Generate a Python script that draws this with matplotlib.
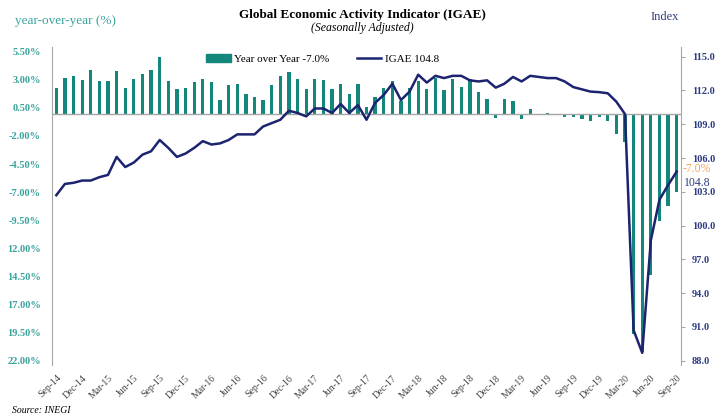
#Chart of the Global Economic Activity Indicator (IGAE) for Mexico, bars for the yearly change and a line for the index

import numpy as np #numpy for the positions of the bars
import matplotlib
matplotlib.use("Agg")
import matplotlib.pyplot as plt #matplotlib to draw the chart
from matplotlib.patches import Patch
from matplotlib.lines import Line2D

plt.rcParams['font.family'] = ['Liberation Serif', 'DejaVu Serif']

#monthly data from Sep-14 to Sep-20 (73 months)
months = ["Sep-14", "Oct-14", "Nov-14", "Dec-14", "Jan-15", "Feb-15", "Mar-15", "Apr-15", "May-15", "Jun-15", "Jul-15", "Aug-15",
          "Sep-15", "Oct-15", "Nov-15", "Dec-15", "Jan-16", "Feb-16", "Mar-16", "Apr-16", "May-16", "Jun-16", "Jul-16", "Aug-16",
          "Sep-16", "Oct-16", "Nov-16", "Dec-16", "Jan-17", "Feb-17", "Mar-17", "Apr-17", "May-17", "Jun-17", "Jul-17", "Aug-17",
          "Sep-17", "Oct-17", "Nov-17", "Dec-17", "Jan-18", "Feb-18", "Mar-18", "Apr-18", "May-18", "Jun-18", "Jul-18", "Aug-18",
          "Sep-18", "Oct-18", "Nov-18", "Dec-18", "Jan-19", "Feb-19", "Mar-19", "Apr-19", "May-19", "Jun-19", "Jul-19", "Aug-19",
          "Sep-19", "Oct-19", "Nov-19", "Dec-19", "Jan-20", "Feb-20", "Mar-20", "Apr-20", "May-20", "Jun-20", "Jul-20", "Aug-20",
          "Sep-20"]

#year over year change in %
yoy = [2.3, 3.2, 3.3, 3.0, 3.9, 2.9, 2.9, 3.8, 2.3, 3.1, 3.5, 3.9,
       5.0, 2.9, 2.2, 2.3, 2.8, 3.1, 2.8, 1.2, 2.5, 2.6, 1.7, 1.5,
       1.2, 2.5, 3.3, 3.7, 3.1, 2.2, 3.1, 3.0, 2.2, 2.6, 1.7, 2.6,
       0.6, 1.5, 2.3, 2.9, 1.1, 2.3, 2.85, 2.2, 3.2, 2.05, 3.1, 2.35,
       3.1, 1.9, 1.3, -0.4, 1.3, 1.1, -0.5, 0.4, -0.1, 0.05, -0.1, -0.3,
       -0.3, -0.5, -0.7, -0.3, -0.7, -1.8, -2.5, -19.6, -21.2, -14.4, -9.6, -8.2,
       -7.0]

#IGAE index (seasonally adjusted)
igae = [102.7, 103.7, 103.8, 104.0, 104.0, 104.3, 104.5, 106.1, 105.2, 105.6, 106.3, 106.6,
        107.6, 106.9, 106.1, 106.4, 106.9, 107.5, 107.2, 107.3, 107.6, 108.1, 108.1, 108.1,
        108.8, 109.1, 109.4, 110.2, 110.0, 109.7, 110.4, 110.4, 110.0, 110.8, 110.0, 110.7,
        109.4, 110.9, 111.6, 112.6, 111.15, 111.9, 113.4, 112.7, 113.3, 113.1, 113.3, 113.3,
        112.9, 112.8, 112.9, 112.25, 112.6, 113.2, 112.8, 113.3, 113.2, 113.1, 113.1, 112.8,
        112.3, 112.1, 111.9, 111.85, 111.75, 111.0, 109.9, 90.7, 88.7, 98.7, 102.3, 103.6,
        104.8]

#left axis tick labels, written like in the original picture
left_ticks = [5.5, 3.0, 0.5, -2.0, -4.5, -7.0, -9.5, -12.0, -14.5, -17.0, -19.5, -22.0]
left_labels = ["5.50%", "3.00%", "0.50%", "-2.00%", "-4.50%", "-7.00%", "-9.50%",
               "12.00%", "14.50%", "17.00%", "19.50%", "22.00%"]
right_ticks = [88, 91, 94, 97, 100, 103, 106, 109, 112, 115]

teal = '#14877d'
teal_text = '#3aa39c'
navy = '#1c2470'
navy_text = '#2d3b82'
grey = '#a6a6a6'

x = np.arange(len(months))

fig = plt.figure(figsize=(7.25, 4.19), dpi=100)
ax = fig.add_axes([52/725, 1-365/419, 629/725, 318/419])

#bars for the yearly change
ax.bar(x, yoy, width=0.38, color=teal, zorder=2)
ax.axhline(0, color=grey, lw=1, zorder=3)
ax.set_xlim(-0.5, len(months)-0.5)
ax.set_ylim(-22.38, 5.92)
ax.set_yticks(left_ticks)
ax.set_yticklabels(left_labels, color=teal_text, fontsize=7.5, fontweight='bold')
ax.tick_params(axis='y', length=0, pad=8)
ax.set_xticks(x[::3])
ax.set_xticklabels(months[::3], rotation=45, ha='right', rotation_mode='anchor', fontsize=7, color='#444444')
ax.tick_params(axis='x', length=0, pad=6)
for s in ['top', 'bottom', 'right']:
    ax.spines[s].set_visible(False)
ax.spines['left'].set_color(grey)

#line for the index on the right axis
ax2 = ax.twinx()
ax2.plot(x, igae, color=navy, lw=1.8, zorder=4)
ax2.set_ylim(87.62, 115.86)
ax2.set_yticks(right_ticks)
ax2.set_yticklabels(["%.1f" % t for t in right_ticks], color=navy_text, fontsize=7.5, fontweight='bold')
ax2.tick_params(axis='y', length=3, color=grey, pad=5)
for s in ['top', 'bottom', 'left']:
    ax2.spines[s].set_visible(False)
ax2.spines['right'].set_color(grey)

#last values written next to the right axis
ax2.text(1.003, 0.617, "-7.0%", transform=ax2.transAxes, color='#f4a261', fontsize=8.5, va='center')
ax2.text(1.005, 0.572, "104.8", transform=ax2.transAxes, color=navy_text, fontsize=8.5, va='center')

#legend on top of the plot
handles = [Patch(color=teal), Line2D([0], [0], color=navy, lw=1.8)]
ax2.legend(handles, ["Year over Year -7.0%", "IGAE 104.8"], loc='upper center', bbox_to_anchor=(0.43, 1.01),
           ncol=2, frameon=False, fontsize=8, handlelength=2.2, handletextpad=0.3, columnspacing=2.5)

#titles and axis names
fig.text(0.5, 0.965, "Global Economic Activity Indicator (IGAE)", ha='center', va='center', fontsize=9.5, fontweight='bold')
fig.text(0.5, 0.932, "(Seasonally Adjusted)", ha='center', va='center', fontsize=8.5, style='italic')
fig.text(15/725, 1-21/419, "year-over-year (%)", ha='left', va='center', fontsize=9.5, color=teal_text)
fig.text(665/725, 1-17/419, "Index", ha='center', va='center', fontsize=9, color=navy_text)
fig.text(12/725, 1-410/419, "Source: INEGI", ha='left', va='center', fontsize=7, style='italic')

plt.savefig("out.png", dpi=100)
